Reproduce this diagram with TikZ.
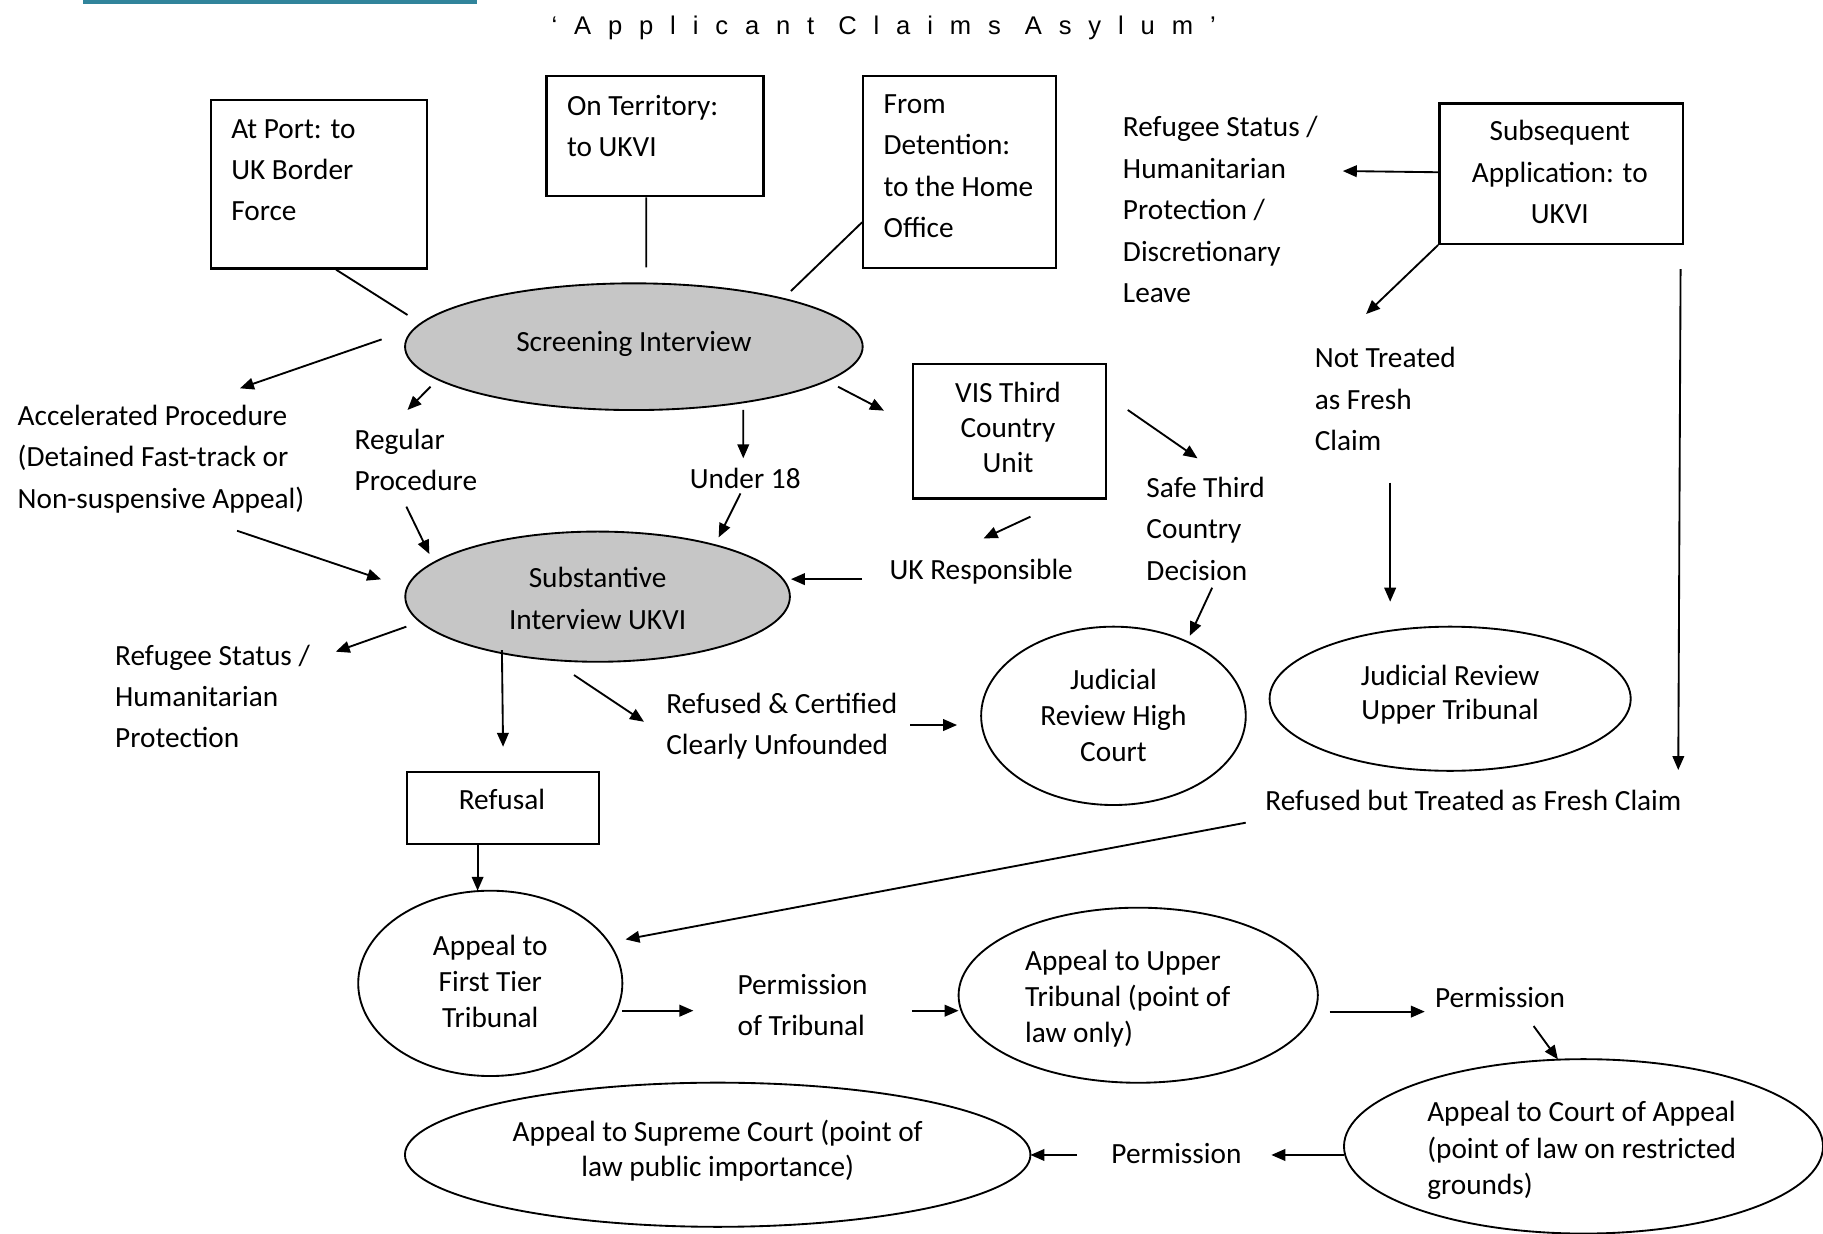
\documentclass[tikz,border=0pt]{standalone}
\usepackage{fontspec}
\setmainfont{Carlito}
\newfontfamily\titlefont[LetterSpace=66]{Liberation Sans}
\usetikzlibrary{shapes.geometric,arrows.meta}
\definecolor{tealbar}{RGB}{49,132,155}
\newcommand\padb[1]{\rule[-#1]{0pt}{#1}}
\begin{document}
\begin{tikzpicture}[x=0.5pt,y=-0.5pt,
  txt/.style={inner sep=0pt,align=left,anchor=west,font=\fontsize{12.6}{17.8}\selectfont,execute at begin node=\strut,execute at end node=\strut},
  etxt/.style={inner sep=0pt,align=center,font=\fontsize{12.6}{15.5}\selectfont,execute at begin node=\strut,execute at end node=\strut},
  frame/.style={draw,line width=1pt,rectangle,inner sep=0pt,anchor=north west},
  ell/.style={ellipse,draw,line width=0.8pt,inner sep=0pt},
  shade/.style={fill=gray!45},
  ln/.style={line width=0.8pt},
  arr/.style={line width=0.8pt,-{Triangle[length=6pt,width=5pt]}}]
\useasboundingbox (0,0) rectangle (1568,1061);
\fill[tealbar] (71,0) rectangle (410,3.5);
\node[inner sep=0pt,anchor=base west,font=\titlefont\fontsize{11}{13}\selectfont] (title) at (474,30) {‘Applicant Claims Asylum’};

% boxes
\node[frame,minimum width=92.9pt,minimum height=72.45pt] (port) at (180.5,85) {};
\node[txt] (portT) at (198.5,151.7) {At Port: to\\UK Border\\Force};
\node[frame,minimum width=93.3pt,minimum height=51.6pt] (terr) at (469,64.5) {};
\node[txt] (terrT) at (487.3,113.8) {On Territory:\\to UKVI};
\node[frame,minimum width=82.75pt,minimum height=82.45pt] (det) at (741.5,64.5) {};
\node[txt] (detT) at (759.6,148.35) {From\\Detention:\\to the Home\\Office};
\node[frame,minimum width=104.8pt,minimum height=60.35pt] (subs) at (1237,88) {};
\node[etxt,font=\fontsize{12.6}{17.8}\selectfont] (subsT) at (1341.6,153.35) {Subsequent\\Application: to\\UKVI};
\node[frame,minimum width=83pt,minimum height=57.9pt] (vis) at (784,312) {};
\node[etxt,font=\fontsize{12.6}{15}\selectfont] (visT) at (867,371.9) {VIS Third\\Country\\Unit};
\node[frame,minimum width=82.7pt,minimum height=30.95pt] (refusal) at (349,662.9) {};
\node[etxt,font=\fontsize{12.6}{17.8}\selectfont] (refusalT) at (431.7,694.5) {Refusal\padb{10.34pt}};

% ellipses
\node[ell,shade,minimum width=196.8pt,minimum height=54.5pt] (scr) at (545.2,298.2) {};
\node[etxt] (scrT) at (545.2,301.7) {Screening Interview\padb{10.65pt}};
\node[ell,shade,minimum width=165.4pt,minimum height=56pt] (sub) at (514,513.2) {};
\node[etxt,font=\fontsize{12.6}{17.9}\selectfont] (subT) at (514,520.2) {Substantive\\Interview UKVI};
\node[ell,minimum width=113.8pt,minimum height=76.7pt] (jrh) at (957.7,615.7) {};
\node[etxt] (jrhT) at (957.7,619.7) {Judicial\\Review High\\Court};
\node[ell,minimum width=155.3pt,minimum height=62pt] (jru) at (1247.3,601) {};
\node[etxt,font=\fontsize{12.6}{14.75}\selectfont] (jruT) at (1247.3,605.6) {Judicial Review\\Upper Tribunal\padb{10pt}};
\node[ell,minimum width=113.6pt,minimum height=79.7pt] (aft) at (421.7,845.8) {};
\node[etxt] (aftT) at (421.7,848.8) {Appeal to\\First Tier\\Tribunal};
\node[ell,minimum width=154.5pt,minimum height=75.3pt] (aup) at (979,856) {};
\node[etxt,align=left,anchor=west] (aupT) at (881.3,861.7) {Appeal to Upper\\Tribunal (point of\\law only)};
\node[ell,minimum width=206pt,minimum height=75pt] (cap) at (1362,986) {};
\node[etxt,align=left,anchor=west,font=\fontsize{12.6}{15.75}\selectfont] (capT) at (1227.2,992) {Appeal to Court of Appeal\\(point of law on restricted\\grounds)};
\node[ell,minimum width=269pt,minimum height=62pt] (sup) at (617.3,993.2) {};
\node[etxt,font=\fontsize{12.6}{15}\selectfont] (supT) at (617.3,997.2) {Appeal to Supreme Court (point of\\law public importance)\padb{9.2pt}};

% free texts
\node[txt] (rsTop) at (965.5,185.6) {Refugee Status /\\Humanitarian\\Protection /\\Discretionary\\Leave};
\node[txt] (notT) at (1130.5,348.6) {Not Treated\\as Fresh\\Claim};
\node[txt] (acc) at (14.8,398) {Accelerated Procedure\\(Detained Fast-track or\\Non-suspensive Appeal)};
\node[txt] (reg) at (304.6,400.9) {Regular\\Procedure};
\node[txt,anchor=center] (u18) at (641,413) {Under 18};
\node[txt] (safe) at (985.7,460.1) {Safe Third\\Country\\Decision};
\node[txt] (ukr) at (764.8,490.9) {UK Responsible};
\node[txt] (rsLow) at (98.7,604.3) {Refugee Status /\\Humanitarian\\Protection};
\node[txt] (rcu) at (572.7,627.9) {Refused \& Certified\\Clearly Unfounded};
\node[txt] (rbt) at (1088,690.2) {Refused but Treated as Fresh Claim};
\node[txt] (permT) at (634,869.7) {Permission\\of Tribunal};
\node[txt] (perm1) at (1233.9,859.6) {Permission};
\node[txt] (perm2) at (955.6,993.2) {Permission};

% connectors
\draw[ln] ([shift={(108.5,0)}]port.south west) -- ([shift={(-194.7,-27.3)}]scr.center);
\draw[ln] ([shift={(86.9,0)}]terr.south west) -- ([shift={(10.7,-68.3)}]scr.center);
\draw[ln] ([shift={(0,-40.2)}]det.south west) -- ([shift={(135.1,-47.9)}]scr.center);
\draw[arr] ([shift={(-216.9,-6.3)}]scr.center) -- ([shift={(191.6,-64)}]acc.west);
\draw[arr] ([shift={(-174.9,34.4)}]scr.center) -- ([shift={(45.9,-48.3)}]reg.west);
\draw[arr] ([shift={(94.1,54.4)}]scr.center) -- ([shift={(-1.7,-18.8)}]u18.center);
\draw[arr] ([shift={(175.6,34.4)}]scr.center) -- ([shift={(-23.7,41.2)}]vis.north west);
\draw[arr] ([shift={(189.1,58.5)}]acc.west) -- ([shift={(-186.2,-14.9)}]sub.center);
\draw[arr] ([shift={(44.9,34.9)}]reg.west) -- ([shift={(-144.7,-36.7)}]sub.center);
\draw[arr] ([shift={(-4.1,11.4)}]u18.center) -- ([shift={(104.1,-51)}]sub.center);
\draw[arr] ([shift={(-23.3,7.2)}]ukr.west) -- ([shift={(166.3,-15.1)}]sub.center);
\draw[arr] ([shift={(102.3,14.6)}]vis.south west) -- ([shift={(81.2,-27.8)}]ukr.west);
\draw[arr] ([shift={(18,40.6)}]vis.north east) -- ([shift={(44.3,-65.9)}]safe.west);
\draw[arr] ([shift={(56.9,45.4)}]safe.west) -- ([shift={(65.7,-68.9)}]jrh.center);
\draw[arr] ([shift={(-164.5,25.8)}]sub.center) -- ([shift={(190.1,-43.8)}]rsLow.west);
\draw[arr] ([shift={(-82.3,45.9)}]sub.center) -- ([shift={(0,-20.6)}]refusal.north);
\draw[arr] ([shift={(-20.3,67.4)}]sub.center) -- ([shift={(-18.8,-7.1)}]rcu.west);
\draw[arr] ([shift={(210.2,-4.3)}]rcu.west) -- ([shift={(-134.5,7.9)}]jrh.center);
\draw[arr] ([shift={(61.8,0)}]refusal.south west) -- ([shift={(-10.9,-79.7)}]aft.center);
\draw[arr] ([shift={(-16.5,17.4)}]rbt.west) -- ([shift={(116.3,-37.8)}]aft.center);
\draw[arr] ([shift={(0,-1.2)}]subs.west) -- ([shift={(189.5,-38.5)}]rsTop.west);
\draw[arr] (subs.south west) -- ([shift={(44.5,-78.5)}]notT.west);
\draw[arr] ([shift={(65.2,66.5)}]notT.west) -- ([shift={(-51.6,-83.5)}]jru.center);
\draw[arr] ([shift={(-3.1,20.7)}]subs.south east) -- ([shift={(355.5,-27.9)}]rbt.west);
\draw[arr] ([shift={(113.7,23.5)}]aft.center) -- ([shift={(-37.6,-0.4)}]permT.west);
\draw[arr] ([shift={(150.4,-0.4)}]permT.west) -- ([shift={(-154.5,13.3)}]aup.center);
\draw[arr] ([shift={(164.6,14.1)}]aup.center) -- ([shift={(-8.4,10.5)}]perm1.west);
\draw[arr] ([shift={(85.2,22.9)}]perm1.west) -- ([shift={(-22,-74.8)}]cap.center);
\draw[arr] ([shift={(-205.8,7.4)}]cap.center) -- ([shift={(137.9,0.2)}]perm2.west);
\draw[arr] ([shift={(-29.2,0.2)}]perm2.west) -- ([shift={(269,0.2)}]sup.center);
\end{tikzpicture}
\end{document}
